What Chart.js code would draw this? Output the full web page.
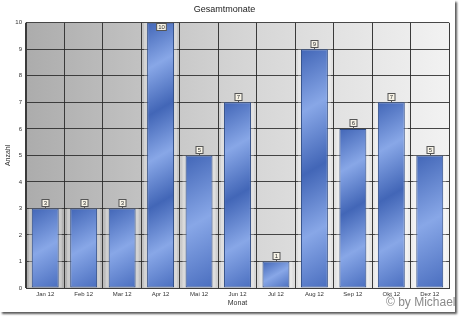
<!DOCTYPE html>
<html>
<head>
<meta charset="utf-8">
<script src="https://cdn.jsdelivr.net/npm/chart.js@4"></script>
<style>
  html, body { margin: 0; padding: 0; background: #ffffff; }
  #wrap { position: absolute; left: 0; top: 0; width: 455px; height: 312px; background: #fff;
          box-shadow: 2px 2px 2px rgba(0,0,0,0.65); }
  #c { position: absolute; left: 0; top: 0; }
  #credit { position: absolute; left: 386px; top: 295px; font: 12px 'Liberation Sans', Arial, sans-serif; color: #8a8a8a; white-space: nowrap; }
</style>
</head>
<body>
<div id="wrap">
  <canvas id="c" width="455" height="312"></canvas>
  <div id="credit">© by Michael</div>
</div>
<script>
const categories = ['Jan 12','Feb 12','Mar 12','Apr 12','Mai 12','Jun 12','Jul 12','Aug 12','Sep 12','Okt 12','Dez 12'];
const counts = [3, 3, 3, 10, 5, 7, 1, 9, 6, 7, 5];
const yTicks = [0,1,2,3,4,5,6,7,8,9,10];
const chartTitle = 'Gesamtmonate';
const xTitle = 'Monat';
const yTitle = 'Anzahl';

function barGradient(ctx) {
  const chart = ctx.chart;
  const xs = chart.scales.x, ys = chart.scales.y;
  if (!xs || !ys || !chart.chartArea) return '#5a7fcc';
  const i = ctx.dataIndex;
  const v = ctx.raw;
  const cx = xs.getPixelForValue(i);
  const w = (xs.width / categories.length) * 0.7;
  const top = ys.getPixelForValue(v);
  const bottom = ys.getPixelForValue(0);
  const h = bottom - top;
  const dx = 0.5, dy = 0.866;
  const L = dx * w + dy * h;
  const x0 = cx - w/2, y0 = top;
  const g = chart.ctx.createLinearGradient(x0, y0, x0 + dx * L, y0 + dy * L);
  const n = Math.max(1, Math.round(L / 90));
  const dark = '#4266b7', light = '#88a7e7';
  for (let k = 0; k < n; k++) {
    g.addColorStop(k / n, dark);
    g.addColorStop((k + 0.5) / n, light);
  }
  g.addColorStop(1, '#4a6ebf');
  return g;
}

const bgPlugin = {
  id: 'plotBg',
  beforeDraw(chart) {
    const {ctx, chartArea: a} = chart;
    const g = ctx.createLinearGradient(a.left, 0, a.right, 0);
    g.addColorStop(0, '#acacac');
    g.addColorStop(0.5, '#d4d4d4');
    g.addColorStop(1, '#f2f2f2');
    ctx.save();
    ctx.fillStyle = g;
    ctx.fillRect(a.left, a.top, a.right - a.left, a.bottom - a.top);
    ctx.restore();
  }
};

const labelPlugin = {
  id: 'valueLabels',
  afterDraw(chart) {
    const {ctx, chartArea: a} = chart;
    const meta = chart.getDatasetMeta(1);
    ctx.save();
    ctx.font = '6px "Liberation Sans", Arial, sans-serif';
    ctx.textAlign = 'center';
    ctx.textBaseline = 'middle';
    meta.data.forEach((el, i) => {
      const txt = String(counts[i]);
      const tw = Math.max(7, ctx.measureText(txt).width + 3);
      const th = 7;
      let boxTop = el.y - 9.5;
      if (boxTop < a.top) boxTop = a.top + 0.5;
      const x = Math.round(el.x) + 0.5;
      if (boxTop + th < el.y) {
        ctx.strokeStyle = '#555';
        ctx.lineWidth = 1;
        ctx.beginPath();
        ctx.moveTo(x, boxTop + th);
        ctx.lineTo(x, el.y);
        ctx.stroke();
      }
      ctx.fillStyle = '#f7f3e6';
      ctx.strokeStyle = '#555';
      ctx.fillRect(x - tw/2, Math.round(boxTop) + 0.5, tw, th);
      ctx.strokeRect(x - tw/2, Math.round(boxTop) + 0.5, tw, th);
      ctx.fillStyle = '#333';
      ctx.fillText(txt, x, Math.round(boxTop) + 0.5 + th/2);
    });
    ctx.restore();
  }
};

new Chart(document.getElementById('c'), {
  type: 'bar',
  data: {
    labels: categories,
    datasets: [
      {
        label: 'frame',
        data: counts,
        backgroundColor: 'rgba(255,255,255,0.3)',
        borderColor: 'rgba(0,0,0,0)',
        borderWidth: 0,
        barPercentage: 0.86,
        categoryPercentage: 1.0,
        grouped: false,
        order: 2
      },
      {
        label: 'Anzahl',
        data: counts,
        backgroundColor: barGradient,
        borderColor: '#2c4a86',
        borderWidth: 1,
        borderSkipped: false,
        barPercentage: 0.70,
        categoryPercentage: 1.0,
        grouped: false,
        order: 1
      }
    ]
  },
  options: {
    responsive: false,
    animation: false,
    events: [],
    layout: { padding: { top: 0, right: 6, bottom: 0, left: 0 } },
    plugins: {
      legend: { display: false },
      tooltip: { enabled: false },
      title: {
        display: true,
        text: chartTitle,
        color: '#222',
        font: { family: '"Liberation Sans", Arial, sans-serif', size: 9, weight: 'normal' },
        padding: { top: 4, bottom: 8 }
      }
    },
    scales: {
      x: {
        z: 0,
        offset: true,
        grid: { display: true, offset: true, color: '#3a3a3a', lineWidth: 1, drawTicks: false },
        border: { display: true, color: '#3a3a3a' },
        ticks: { color: '#333', font: { family: '"Liberation Sans", Arial, sans-serif', size: 6 }, padding: 3, maxRotation: 0, autoSkip: false },
        title: { display: true, text: xTitle, color: '#333', font: { family: '"Liberation Sans", Arial, sans-serif', size: 7 }, padding: { top: 0, bottom: 5 } },
        afterFit(s) { s.height = 24; }
      },
      y: {
        z: 1,
        min: 0,
        max: 10,
        afterBuildTicks(s) { s.ticks = yTicks.map(v => ({ value: v })); },
        grid: { display: true, color: 'rgba(40,40,40,0.85)', lineWidth: 1, drawTicks: false },
        border: { display: true, color: '#3a3a3a' },
        ticks: { color: '#333', font: { family: '"Liberation Sans", Arial, sans-serif', size: 6 }, padding: 4 },
        title: { display: true, text: yTitle, color: '#333', font: { family: '"Liberation Sans", Arial, sans-serif', size: 7 }, padding: { top: 4, bottom: 0 } },
        afterFit(s) { s.width = 26; }
      }
    }
  },
  plugins: [bgPlugin, labelPlugin]
});
</script>
</body>
</html>
